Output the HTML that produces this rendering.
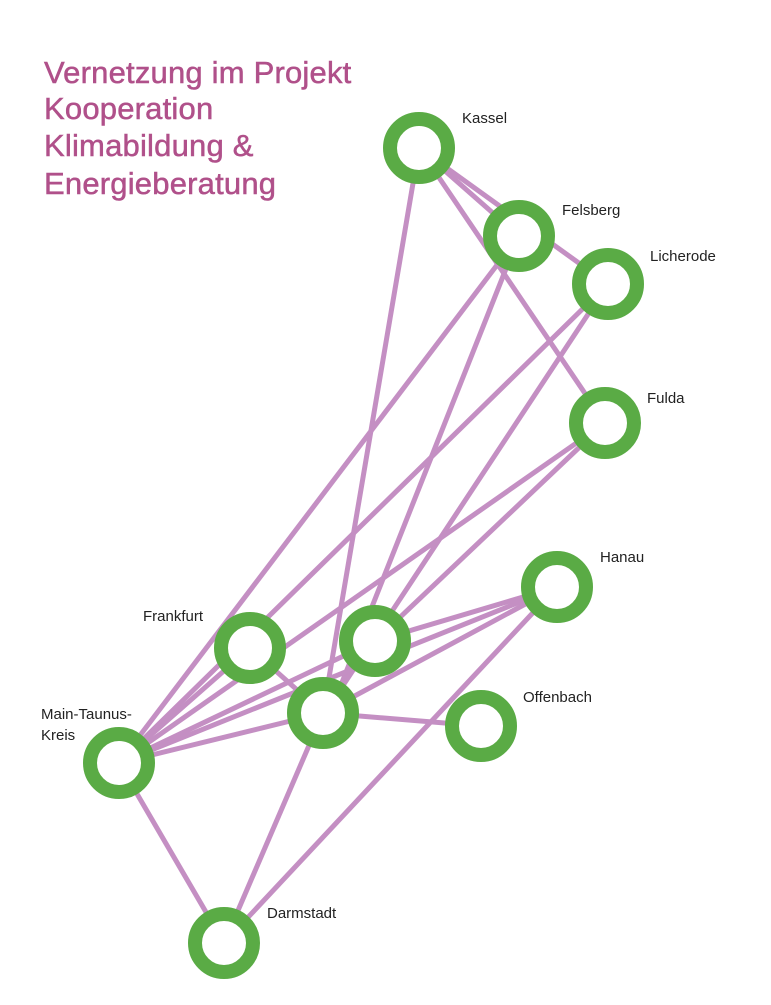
<!DOCTYPE html>
<html><head><meta charset="utf-8"><style>
body{margin:0;background:#fff;}
svg{display:block;}
text{font-family:"Liberation Sans",sans-serif;}
</style></head><body>
<svg width="771" height="1005" viewBox="0 0 771 1005">
<g stroke="#c48fc3" stroke-width="5" fill="none">
<line x1="419" y1="148" x2="519" y2="236"/>
<line x1="419" y1="148" x2="608" y2="284"/>
<line x1="419" y1="148" x2="605" y2="423"/>
<line x1="419" y1="148" x2="323" y2="713"/>
<line x1="519" y1="236" x2="119" y2="763"/>
<line x1="519" y1="236" x2="335" y2="700"/>
<line x1="608" y1="284" x2="119" y2="763"/>
<line x1="608" y1="284" x2="340" y2="690"/>
<line x1="605" y1="423" x2="119" y2="763"/>
<line x1="605" y1="423" x2="375" y2="641"/>
<line x1="119" y1="763" x2="250" y2="648"/>
<line x1="119" y1="763" x2="375" y2="641"/>
<line x1="119" y1="763" x2="323" y2="713"/>
<line x1="119" y1="763" x2="557" y2="587"/>
<line x1="119" y1="763" x2="224" y2="943"/>
<line x1="250" y1="648" x2="323" y2="713"/>
<line x1="375" y1="641" x2="557" y2="587"/>
<line x1="323" y1="713" x2="557" y2="587"/>
<line x1="323" y1="713" x2="481" y2="726"/>
<line x1="323" y1="713" x2="224" y2="943"/>
<line x1="557" y1="587" x2="224" y2="943"/>
</g>
<g stroke="#5aab45" stroke-width="14" fill="#fff">
<circle cx="419" cy="148" r="29"/>
<circle cx="519" cy="236" r="29"/>
<circle cx="608" cy="284" r="29"/>
<circle cx="605" cy="423" r="29"/>
<circle cx="557" cy="587" r="29"/>
<circle cx="250" cy="648" r="29"/>
<circle cx="375" cy="641" r="29"/>
<circle cx="323" cy="713" r="29"/>
<circle cx="481" cy="726" r="29"/>
<circle cx="119" cy="763" r="29"/>
<circle cx="224" cy="943" r="29"/>
</g>
<g font-size="15" fill="#222">
<text x="462" y="123">Kassel</text>
<text x="562" y="215">Felsberg</text>
<text x="650" y="261">Licherode</text>
<text x="647" y="403">Fulda</text>
<text x="600" y="562">Hanau</text>
<text x="143" y="621">Frankfurt</text>
<text x="523" y="702">Offenbach</text>
<text x="41" y="719">Main-Taunus-</text>
<text x="41" y="740">Kreis</text>
<text x="267" y="918">Darmstadt</text>
</g>
<g font-size="31" fill="#b0508a" stroke="#b0508a" stroke-width="0.5" letter-spacing="0.2">
<text x="44" y="83">Vernetzung im Projekt</text>
<text x="44" y="119">Kooperation</text>
<text x="44" y="156">Klimabildung &amp;</text>
<text x="44" y="194">Energieberatung</text>
</g>
</svg>
</body></html>
